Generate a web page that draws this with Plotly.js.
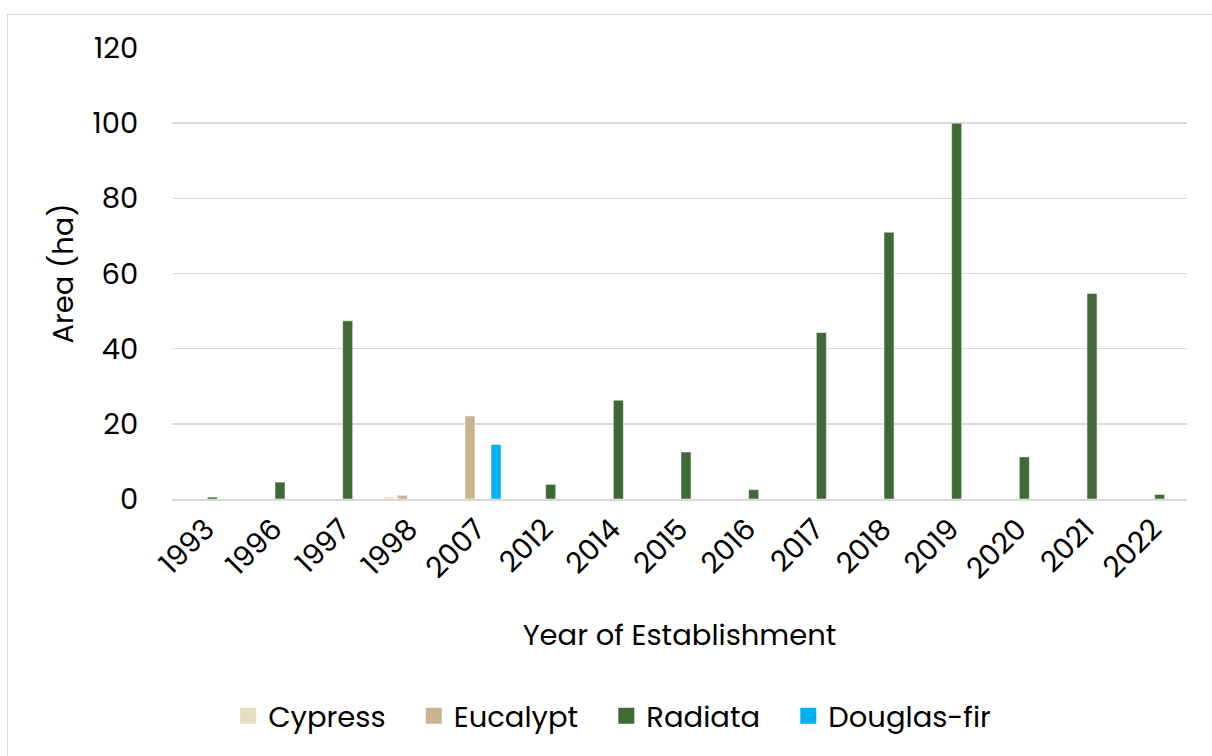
<!DOCTYPE html>
<html>
<head>
<meta charset="utf-8">
<script src="https://cdn.plot.ly/plotly-3.0.1.min.js"></script>
<style>
  html, body { margin: 0; padding: 0; background: #fff; }
  #frame { position: absolute; left: 7px; top: 14px; width: 1210px; height: 760px; border: 1.5px solid #d9d9d9; box-sizing: border-box; }
  #chart { position: absolute; left: 0; top: 0; width: 1212px; height: 756px; }
</style>
</head>
<body>
<div id="frame"></div>
<div id="chart"></div>
<script>
const years = ["1993","1996","1997","1998","2007","2012","2014","2015","2016","2017","2018","2019","2020","2021","2022"];
const cypress    = [null, null, null, 0.5, null, null, null, null, null, null, null, null, null, null, null];
const eucalypt   = [null, null, null, 1.0, 22.1, null, null, null, null, null, null, null, null, null, null];
const radiata    = [0.5, 4.5, 47.4, null, null, 3.9, 26.3, 12.5, 2.5, 44.3, 71.0, 100.0, 11.2, 54.7, 1.2];
const douglasFir = [null, null, null, null, 14.5, null, null, null, null, null, null, null, null, null, null];

const seriesNames = ["Cypress", "Eucalypt", "Radiata", "Douglas-fir"];
const seriesData = [cypress, eucalypt, radiata, douglasFir];
const seriesColors = ["#E6DCC2", "#C8B493", "#416936", "#00B0F0"];

const font = "Poppins, Inter, 'Open Sans', sans-serif";
const fs = 29;

const barTraces = seriesNames.map((n, i) => ({
  type: "bar",
  name: n,
  x: years,
  y: seriesData[i],
  showlegend: false,
  marker: { color: seriesColors[i], line: { color: "rgba(255,255,255,0.5)", width: 1 } },
  hoverinfo: "x+y+name"
}));

// legend-only entries (larger square swatches)
const legendTraces = seriesNames.map((n, i) => ({
  type: "scatter",
  mode: "markers",
  name: n + "\u00a0\u00a0\u00a0",
  x: [null],
  y: [null],
  showlegend: true,
  marker: { symbol: "square", size: 18, color: seriesColors[i], line: { width: 0 } }
}));

const layout = {
  width: 1212,
  height: 756,
  paper_bgcolor: "rgba(0,0,0,0)",
  plot_bgcolor: "rgba(0,0,0,0)",
  margin: { l: 172, r: 25, t: 48, b: 257 },
  barmode: "group",
  bargap: 0.23,
  bargroupgap: 0.23,
  font: { family: font, size: fs, color: "#000" },
  xaxis: {
    type: "category",
    tickangle: -45,
    tickfont: { size: fs, family: font },
    showgrid: false,
    showline: true,
    linecolor: "#d9d9d9",
    linewidth: 1.5,
    ticks: "",
    title: { text: "Year of Establishment", font: { size: fs, family: font }, standoff: 38 },
    automargin: false
  },
  yaxis: {
    range: [0, 120],
    tickvals: [0, 20, 40, 60, 80, 100, 120],
    tickfont: { size: fs, family: font },
    showgrid: true,
    gridcolor: "#d9d9d9",
    gridwidth: 1.5,
    zeroline: false,
    showline: false,
    ticks: "outside",
    ticklen: 27,
    tickcolor: "rgba(0,0,0,0)",
    title: { text: "Area (ha)", font: { size: fs, family: font }, standoff: 10 },
    automargin: false
  },
  legend: {
    orientation: "h",
    x: 0.445,
    xanchor: "center",
    y: -0.481,
    yanchor: "middle",
    font: { size: fs, family: font },
    itemwidth: 30,
    traceorder: "normal"
  },
  showlegend: true
};

Plotly.newPlot("chart", barTraces.concat(legendTraces), layout, { displayModeBar: false, staticPlot: true });
</script>
</body>
</html>
